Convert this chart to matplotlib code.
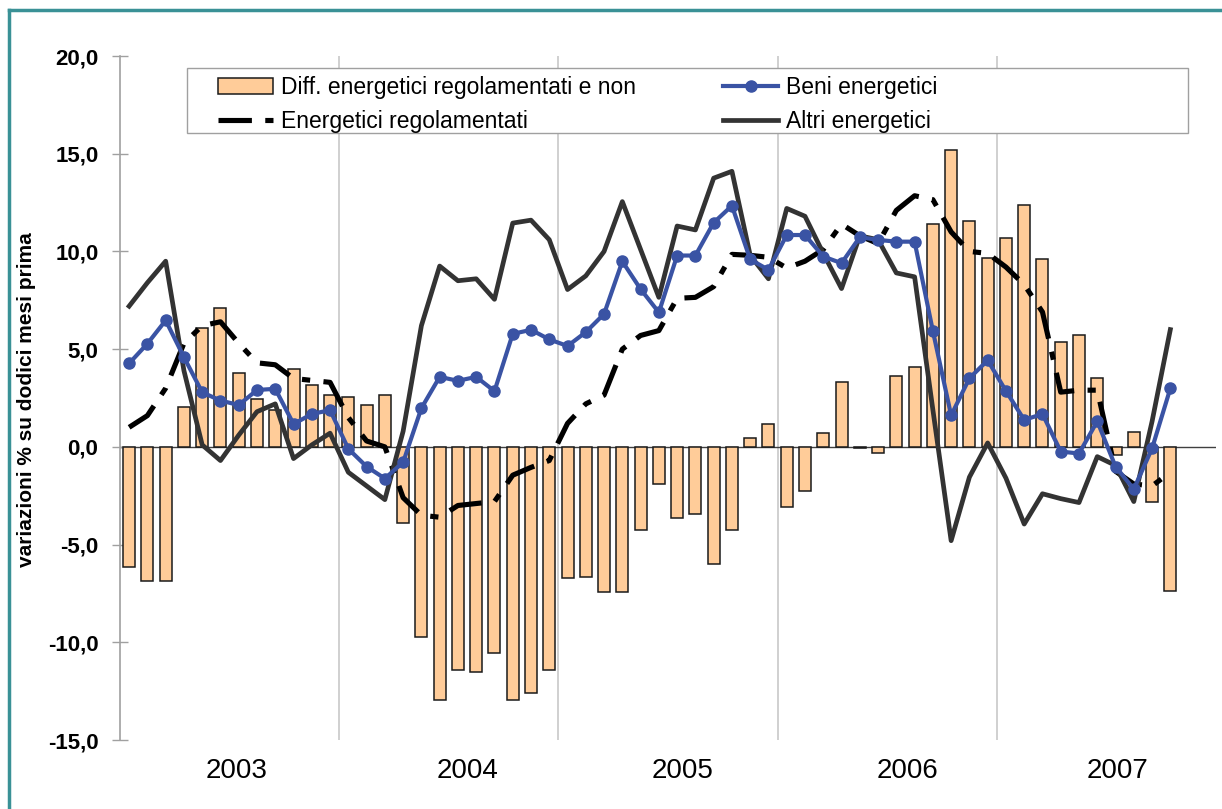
import matplotlib
matplotlib.use("Agg")
import matplotlib.pyplot as plt
from matplotlib.patches import Rectangle
from matplotlib.lines import Line2D
import numpy as np

plt.rcParams['font.family'] = ['Liberation Sans', 'DejaVu Sans']

# Monthly data, Jan 2003 - Oct 2007 (axis spans to Dec 2007)
years = ["2003", "2004", "2005", "2006", "2007"]
year_label_pos = [5.9, 18.55, 30.3, 42.6, 54.1]

diff_reg_non = [
    -6.15, -6.84, -6.84, 2.06, 6.07, 7.08, 3.78, 2.45, 1.88, 3.96, 3.16, 2.65,
    2.55, 2.16, 2.63, -3.92, -9.71, -12.94, -11.41, -11.53, -10.54, -12.94, -12.62, -11.41,
    -6.72, -6.65, -7.42, -7.42, -4.25, -1.92, -3.62, -3.44, -6.0, -4.23, 0.47, 1.15,
    -3.1, -2.27, 0.72, 3.30, -0.05, -0.3, 3.62, 4.11, 11.39, 15.18, 11.58, 9.65,
    10.68, 12.4, 9.61, 5.36, 5.74, 3.5, -0.44, 0.77, -2.83, -7.36]

beni_energetici = [
    4.27, 5.28, 6.47, 4.59, 2.79, 2.37, 2.14, 2.91, 2.97, 1.17, 1.68, 1.88,
    -0.1, -1.01, -1.62, -0.79, 1.98, 3.58, 3.38, 3.58, 2.85, 5.78, 5.99, 5.5,
    5.16, 5.87, 6.8, 9.49, 8.07, 6.88, 9.79, 9.79, 11.47, 12.34, 9.59, 9.06,
    10.84, 10.84, 9.74, 9.4, 10.73, 10.59, 10.5, 10.5, 5.93, 1.61, 3.51, 4.43,
    2.86, 1.38, 1.68, -0.24, -0.34, 1.31, -1.01, -2.16, -0.08, 2.99]

energetici_regolamentati = [
    1.0, 1.6, 3.0, 5.3, 6.2, 6.4, 5.3, 4.3, 4.2, 3.5, 3.4, 3.3,
    1.5, 0.3, 0.0, -2.6, -3.5, -3.6, -3.0, -2.9, -2.8, -1.45, -1.05, -0.7,
    1.2, 2.2, 2.65, 5.0, 5.7, 5.95, 7.6, 7.65, 8.2, 9.85, 9.8, 9.7,
    9.15, 9.5, 10.1, 11.4, 10.8, 10.4, 12.1, 12.85, 12.65, 11.0, 10.0, 9.9,
    9.2, 8.3, 6.9, 2.8, 2.9, 2.9, -1.25, -1.9, -2.0, -1.3]

altri_energetici = [
    7.2, 8.4, 9.5, 3.9, 0.1, -0.7, 0.6, 1.8, 2.2, -0.6, 0.1, 0.7,
    -1.3, -2.0, -2.7, 0.8, 6.2, 9.25, 8.5, 8.6, 7.55, 11.45, 11.6, 10.6,
    8.05, 8.75, 10.0, 12.55, 10.1, 7.65, 11.3, 11.1, 13.75, 14.1, 9.8, 8.6,
    12.2, 11.8, 9.9, 8.1, 10.8, 10.6, 8.9, 8.7, 1.9, -4.8, -1.55, 0.2,
    -1.6, -3.95, -2.4, -2.65, -2.85, -0.5, -0.95, -2.8, 1.3, 6.0]

n_axis_months = 60
yticks = [-15, -10, -5, 0, 5, 10, 15, 20]

W, H = 1222, 809
fig = plt.figure(figsize=(W / 100, H / 100), dpi=100)
ax = fig.add_axes([120 / W, 1 - 740 / H, (1216 - 120) / W, (740 - 56) / H])

x = np.arange(len(diff_reg_non))

# year separators
for b in range(12, n_axis_months, 12):
    ax.axvline(b - 0.5, color='#c8c8c8', lw=1.2, zorder=0.5)

ax.axhline(0, color='#404040', lw=1.0, zorder=1)

ax.bar(x, diff_reg_non, width=0.66, color='#FFCC99', edgecolor='#1a1a1a',
       linewidth=1.1, zorder=2, label='Diff. energetici regolamentati e non')

ax.plot(x, energetici_regolamentati, color='black', lw=3.7,
        linestyle=(0, (6.5, 2.6, 1.6, 2.6)), zorder=3,
        label='Energetici regolamentati')
ax.plot(x, altri_energetici, color='#333333', lw=3.4, zorder=3.5,
        label='Altri energetici')
ax.plot(x, beni_energetici, color='#3A53A4', lw=3.0, marker='o',
        markersize=8, zorder=4, label='Beni energetici')

ax.set_xlim(-0.5, n_axis_months - 0.5)
ax.set_ylim(-15, 20)
ax.set_yticks(yticks)
ax.set_yticklabels([f"{v:.1f}".replace('.', ',') for v in yticks],
                   fontsize=16, fontweight='bold')
ax.tick_params(axis='y', direction='inout', length=11, width=1,
               color='#a0a0a0', pad=10)
ax.set_xticks([])
for s in ['top', 'right', 'bottom']:
    ax.spines[s].set_visible(False)
ax.spines['left'].set_color('#a0a0a0')
ax.spines['left'].set_linewidth(1.2)

for yl, xp in zip(years, year_label_pos):
    ax.text(xp, -16.6, yl, ha='center', va='center', fontsize=20,
            transform=ax.transData, clip_on=False)

fig.text(27 / W, 1 - 400 / H, "variazioni % su dodici mesi prima",
         rotation=90, ha='center', va='center', fontsize=15, fontweight='bold')

# legend frame
ax.add_patch(Rectangle((187 / W, 1 - 133 / H), (1188 - 187) / W, 65 / H,
                       transform=fig.transFigure, facecolor='white',
                       edgecolor='#a0a0a0', lw=1.0, zorder=6, clip_on=False))

h = ax.get_legend_handles_labels()
hd = dict(zip(h[1], h[0]))
order = ['Diff. energetici regolamentati e non', 'Energetici regolamentati',
         'Beni energetici', 'Altri energetici']
leg = fig.legend([hd[k] for k in order], order, ncol=2, frameon=False,
                 loc='upper left', bbox_to_anchor=(218 / W, 1 - 76 / H),
                 borderpad=0, borderaxespad=0, fontsize=16.5,
                 handlelength=2.4, handletextpad=0.35, columnspacing=3.8,
                 labelspacing=0.5)
leg.set_zorder(10)

# figure border (teal)
fig.add_artist(Line2D([8.5 / W, 8.5 / W], [0, 1 - 10 / H], color='#3A9196',
                      lw=2.5, transform=fig.transFigure))
fig.add_artist(Line2D([8.5 / W, 1], [1 - 10 / H, 1 - 10 / H], color='#3A9196',
                      lw=2.5, transform=fig.transFigure))

fig.savefig("out.png", dpi=100)
